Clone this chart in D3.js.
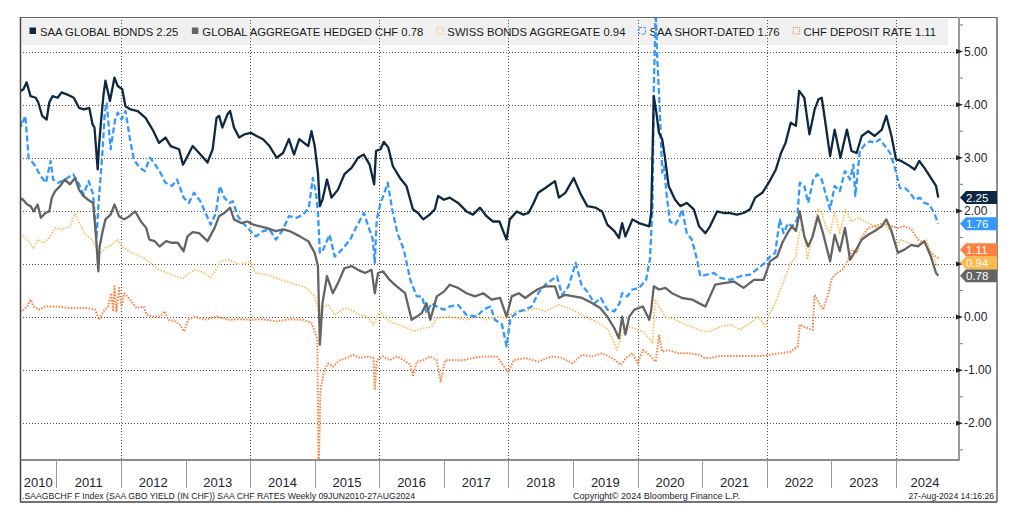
<!DOCTYPE html>
<html lang="en">
<head>
<meta charset="UTF-8">
<title>SAA CHF Rates</title>
<script src="https://d3js.org/d3.v7.min.js"></script>
<style>
    body { margin: 0; background: #fff; }
    svg { font-family: "Liberation Sans", Arial, sans-serif; }
    .grid line { stroke: #555; stroke-width: 1; stroke-dasharray: 1,2; shape-rendering: crispEdges; }
</style>
</head>
<body>
<div id="chart"></div>
<script>
// weekly series as [year fraction, yield]
var saaGlobal = [[2010.44,4.25],[2010.49,4.29],[2010.54,4.42],[2010.60,4.16],[2010.68,4.13],[2010.72,4.04],[2010.78,3.79],[2010.85,3.72],[2010.89,4.04],[2010.94,4.16],[2011.02,4.13],[2011.08,4.23],[2011.17,4.19],[2011.27,4.13],[2011.35,3.94],[2011.43,3.91],[2011.51,3.94],[2011.56,3.63],[2011.59,3.57],[2011.64,2.78],[2011.66,3.22],[2011.69,3.66],[2011.73,4.19],[2011.76,4.45],[2011.83,4.07],[2011.90,4.51],[2011.95,4.35],[2012.02,4.29],[2012.07,3.97],[2012.15,3.91],[2012.26,3.88],[2012.38,3.75],[2012.49,3.53],[2012.59,3.28],[2012.69,3.38],[2012.77,3.22],[2012.90,3.16],[2012.96,2.87],[2013.03,3.03],[2013.11,3.22],[2013.21,3.09],[2013.34,2.91],[2013.42,3.16],[2013.48,3.75],[2013.52,3.79],[2013.57,3.57],[2013.65,3.82],[2013.69,3.88],[2013.75,3.57],[2013.83,3.38],[2013.91,3.44],[2014.01,3.47],[2014.10,3.41],[2014.20,3.35],[2014.30,3.22],[2014.41,3.00],[2014.51,3.09],[2014.60,3.35],[2014.68,3.06],[2014.76,3.35],[2014.90,3.22],[2014.95,3.50],[2015.00,3.22],[2015.05,2.72],[2015.08,2.09],[2015.12,2.21],[2015.19,2.59],[2015.26,2.25],[2015.36,2.40],[2015.46,2.69],[2015.57,2.81],[2015.67,3.00],[2015.76,3.06],[2015.85,2.87],[2015.92,2.50],[2015.95,3.13],[2016.02,3.16],[2016.07,3.30],[2016.14,3.19],[2016.21,2.84],[2016.32,2.62],[2016.42,2.47],[2016.52,2.03],[2016.60,1.96],[2016.68,1.84],[2016.78,1.93],[2016.86,2.03],[2016.91,2.28],[2017.00,2.21],[2017.09,2.25],[2017.22,2.15],[2017.35,1.99],[2017.45,1.93],[2017.56,2.06],[2017.66,1.90],[2017.76,1.80],[2017.86,1.80],[2017.97,1.46],[2018.02,1.84],[2018.13,1.99],[2018.23,1.93],[2018.31,1.96],[2018.39,2.15],[2018.46,2.34],[2018.57,2.43],[2018.72,2.56],[2018.78,2.25],[2018.88,2.34],[2019.01,2.62],[2019.12,2.31],[2019.22,2.09],[2019.35,2.06],[2019.45,1.99],[2019.53,1.74],[2019.64,1.62],[2019.71,1.49],[2019.76,1.77],[2019.81,1.52],[2019.92,1.84],[2020.02,1.77],[2020.18,1.71],[2020.21,1.96],[2020.25,4.16],[2020.29,3.85],[2020.33,3.47],[2020.38,3.35],[2020.42,3.03],[2020.48,2.47],[2020.58,2.21],[2020.66,2.09],[2020.76,2.15],[2020.87,2.03],[2020.95,1.71],[2021.05,1.58],[2021.12,1.71],[2021.23,1.99],[2021.33,1.96],[2021.43,1.96],[2021.54,1.93],[2021.64,1.96],[2021.74,2.03],[2021.82,2.25],[2021.93,2.34],[2022.03,2.53],[2022.14,2.78],[2022.22,3.09],[2022.29,3.28],[2022.37,3.66],[2022.45,3.60],[2022.50,4.26],[2022.58,4.13],[2022.66,3.44],[2022.74,3.91],[2022.80,4.10],[2022.85,4.13],[2022.90,3.72],[2022.98,3.03],[2023.05,3.53],[2023.14,3.00],[2023.24,3.53],[2023.31,3.13],[2023.39,3.09],[2023.47,3.41],[2023.57,3.50],[2023.67,3.41],[2023.78,3.53],[2023.85,3.79],[2023.93,3.41],[2024.00,2.97],[2024.08,2.94],[2024.18,2.87],[2024.29,2.78],[2024.36,2.94],[2024.44,2.81],[2024.54,2.62],[2024.62,2.47],[2024.655,2.25]];

var globalAggHedged = [[2010.44,2.20],[2010.47,2.23],[2010.55,2.12],[2010.60,2.09],[2010.65,1.99],[2010.71,2.12],[2010.76,1.87],[2010.83,1.96],[2010.89,1.99],[2010.93,2.25],[2010.98,2.37],[2011.06,2.47],[2011.13,2.59],[2011.21,2.50],[2011.29,2.62],[2011.35,2.40],[2011.42,2.28],[2011.49,2.21],[2011.57,2.15],[2011.61,1.58],[2011.65,0.86],[2011.67,1.33],[2011.71,1.58],[2011.76,1.84],[2011.84,1.93],[2011.90,2.12],[2011.97,1.90],[2012.05,1.84],[2012.13,1.90],[2012.22,1.99],[2012.31,1.80],[2012.39,1.68],[2012.44,1.46],[2012.52,1.43],[2012.60,1.33],[2012.70,1.43],[2012.78,1.40],[2012.88,1.40],[2012.97,1.24],[2013.03,1.52],[2013.11,1.60],[2013.21,1.58],[2013.34,1.43],[2013.45,1.68],[2013.52,1.90],[2013.60,1.96],[2013.69,2.06],[2013.75,1.84],[2013.86,1.77],[2013.96,1.80],[2014.05,1.74],[2014.25,1.68],[2014.40,1.62],[2014.51,1.65],[2014.61,1.62],[2014.77,1.52],[2014.90,1.43],[2015.00,1.21],[2015.05,0.96],[2015.08,-0.52],[2015.12,0.26],[2015.19,0.77],[2015.28,0.45],[2015.36,0.64],[2015.46,0.92],[2015.57,0.96],[2015.67,0.89],[2015.78,0.83],[2015.88,0.89],[2015.93,0.45],[2015.98,0.83],[2016.06,0.86],[2016.16,0.70],[2016.27,0.58],[2016.40,0.45],[2016.50,-0.05],[2016.58,0.01],[2016.66,0.08],[2016.73,0.26],[2016.79,-0.05],[2016.89,0.39],[2017.00,0.48],[2017.09,0.61],[2017.22,0.55],[2017.35,0.45],[2017.48,0.39],[2017.61,0.45],[2017.74,0.33],[2017.87,0.36],[2017.97,0.01],[2018.05,0.39],[2018.16,0.45],[2018.26,0.36],[2018.36,0.45],[2018.46,0.53],[2018.57,0.58],[2018.72,0.58],[2018.78,0.36],[2018.88,0.42],[2019.01,0.39],[2019.14,0.36],[2019.30,0.26],[2019.42,0.17],[2019.53,0.01],[2019.64,-0.21],[2019.71,-0.40],[2019.76,0.01],[2019.81,-0.33],[2019.87,0.01],[2019.95,0.14],[2020.08,0.20],[2020.18,-0.05],[2020.21,0.14],[2020.25,0.58],[2020.33,0.52],[2020.43,0.55],[2020.53,0.45],[2020.69,0.36],[2020.84,0.33],[2021.00,0.23],[2021.05,0.20],[2021.12,0.39],[2021.20,0.61],[2021.33,0.64],[2021.49,0.67],[2021.64,0.55],[2021.80,0.70],[2021.95,0.70],[2022.05,1.05],[2022.16,1.14],[2022.24,1.40],[2022.32,1.58],[2022.39,1.71],[2022.45,1.62],[2022.51,1.99],[2022.58,1.52],[2022.64,1.33],[2022.71,1.52],[2022.79,1.90],[2022.87,1.58],[2022.98,1.05],[2023.05,1.55],[2023.13,1.24],[2023.21,1.68],[2023.29,1.08],[2023.37,1.24],[2023.47,1.46],[2023.57,1.55],[2023.67,1.62],[2023.78,1.71],[2023.85,1.84],[2023.93,1.62],[2024.03,1.21],[2024.13,1.27],[2024.24,1.36],[2024.34,1.33],[2024.44,1.43],[2024.54,1.14],[2024.62,0.83],[2024.655,0.78]];

var swissAgg = [[2010.44,1.55],[2010.47,1.55],[2010.55,1.46],[2010.64,1.30],[2010.72,1.46],[2010.81,1.40],[2010.89,1.49],[2010.98,1.68],[2011.08,1.65],[2011.21,1.71],[2011.29,1.95],[2011.37,1.74],[2011.45,1.55],[2011.55,1.46],[2011.63,1.27],[2011.69,1.21],[2011.76,1.30],[2011.86,1.36],[2011.94,1.46],[2012.02,1.33],[2012.12,1.24],[2012.23,1.18],[2012.36,1.11],[2012.49,0.99],[2012.59,0.89],[2012.72,0.83],[2012.85,0.77],[2012.95,0.72],[2013.05,0.83],[2013.16,0.89],[2013.29,0.83],[2013.39,0.74],[2013.47,0.89],[2013.54,1.05],[2013.67,1.08],[2013.83,0.99],[2014.00,1.05],[2014.09,0.83],[2014.25,0.80],[2014.40,0.74],[2014.56,0.67],[2014.72,0.61],[2014.87,0.55],[2015.00,0.39],[2015.05,0.14],[2015.09,-0.05],[2015.14,0.20],[2015.21,0.23],[2015.31,0.04],[2015.42,0.14],[2015.50,0.17],[2015.60,0.11],[2015.70,0.04],[2015.81,0.01],[2015.91,-0.14],[2016.01,0.11],[2016.12,-0.05],[2016.22,-0.11],[2016.38,-0.18],[2016.53,-0.27],[2016.68,-0.21],[2016.81,-0.18],[2016.89,-0.02],[2017.05,0.01],[2017.20,-0.02],[2017.35,-0.05],[2017.51,0.01],[2017.66,-0.05],[2017.82,0.01],[2017.97,-0.02],[2018.10,0.11],[2018.26,0.11],[2018.41,0.17],[2018.57,0.11],[2018.78,0.23],[2018.93,0.17],[2019.09,0.08],[2019.24,-0.02],[2019.40,-0.11],[2019.55,-0.24],[2019.68,-0.62],[2019.76,-0.33],[2019.87,-0.18],[2020.00,-0.24],[2020.08,-0.27],[2020.18,-0.40],[2020.23,-0.49],[2020.27,0.33],[2020.33,0.20],[2020.43,0.01],[2020.58,-0.05],[2020.74,-0.14],[2020.89,-0.21],[2021.02,-0.27],[2021.12,-0.27],[2021.28,-0.18],[2021.43,-0.14],[2021.59,-0.24],[2021.74,-0.11],[2021.87,0.01],[2021.97,-0.18],[2022.05,0.08],[2022.13,0.26],[2022.21,0.52],[2022.29,0.77],[2022.37,1.02],[2022.45,1.14],[2022.50,1.58],[2022.56,1.71],[2022.63,1.08],[2022.71,1.58],[2022.79,2.03],[2022.85,1.96],[2022.92,1.68],[2022.98,1.58],[2023.05,1.99],[2023.13,1.58],[2023.22,2.03],[2023.31,1.80],[2023.42,1.87],[2023.52,1.80],[2023.62,1.74],[2023.73,1.68],[2023.83,1.74],[2023.93,1.58],[2024.00,1.33],[2024.08,1.46],[2024.18,1.40],[2024.29,1.33],[2024.39,1.40],[2024.47,1.46],[2024.54,1.21],[2024.62,1.02],[2024.655,0.94]];

var saaShort = [[2010.44,3.70],[2010.46,3.60],[2010.52,3.79],[2010.57,3.00],[2010.66,2.87],[2010.76,2.65],[2010.84,2.53],[2010.91,2.94],[2010.95,2.59],[2011.03,2.53],[2011.13,2.59],[2011.26,2.69],[2011.34,2.53],[2011.42,2.31],[2011.50,2.56],[2011.57,2.31],[2011.62,1.46],[2011.65,2.09],[2011.71,3.03],[2011.75,3.85],[2011.78,4.04],[2011.84,3.16],[2011.91,3.72],[2011.95,3.85],[2012.01,3.72],[2012.07,3.88],[2012.14,3.35],[2012.20,2.97],[2012.29,2.81],[2012.37,2.75],[2012.45,3.00],[2012.53,2.87],[2012.61,2.72],[2012.69,2.53],[2012.79,2.47],[2012.87,2.59],[2012.97,2.25],[2013.05,2.15],[2013.13,2.34],[2013.23,2.18],[2013.31,1.96],[2013.39,1.74],[2013.47,1.96],[2013.53,2.47],[2013.60,2.25],[2013.68,2.15],[2013.73,2.18],[2013.81,1.90],[2013.89,1.77],[2013.99,1.64],[2014.09,1.52],[2014.20,1.62],[2014.30,1.65],[2014.40,1.46],[2014.51,1.65],[2014.60,1.90],[2014.72,1.87],[2014.82,1.93],[2014.91,2.06],[2014.97,2.62],[2015.02,2.34],[2015.05,1.96],[2015.08,1.21],[2015.13,1.27],[2015.23,1.55],[2015.31,1.14],[2015.42,1.27],[2015.55,1.46],[2015.65,1.71],[2015.76,1.96],[2015.83,1.71],[2015.90,1.46],[2015.93,1.02],[2015.96,1.84],[2016.02,2.15],[2016.08,2.34],[2016.13,2.53],[2016.20,2.03],[2016.28,1.58],[2016.38,1.27],[2016.48,0.70],[2016.58,0.39],[2016.66,0.39],[2016.73,0.08],[2016.81,0.26],[2016.89,0.20],[2017.00,0.14],[2017.09,0.20],[2017.22,0.23],[2017.35,0.04],[2017.51,0.01],[2017.61,0.14],[2017.72,0.20],[2017.79,-0.05],[2017.90,-0.14],[2017.97,-0.55],[2018.03,-0.02],[2018.16,0.11],[2018.26,0.14],[2018.36,0.20],[2018.46,0.45],[2018.57,0.61],[2018.67,0.70],[2018.75,0.77],[2018.83,0.42],[2018.93,0.58],[2019.04,1.02],[2019.13,0.61],[2019.22,0.48],[2019.33,0.26],[2019.43,0.36],[2019.53,0.14],[2019.64,0.11],[2019.72,0.26],[2019.76,0.45],[2019.84,0.39],[2019.92,0.52],[2020.02,0.55],[2020.13,0.70],[2020.19,1.08],[2020.23,2.09],[2020.25,4.29],[2020.28,5.80],[2020.30,4.98],[2020.34,3.97],[2020.38,2.72],[2020.41,2.84],[2020.45,2.28],[2020.50,1.80],[2020.58,1.74],[2020.63,1.84],[2020.69,2.03],[2020.76,1.58],[2020.84,1.46],[2020.92,1.08],[2020.97,0.77],[2021.07,0.80],[2021.18,0.83],[2021.28,0.74],[2021.43,0.70],[2021.59,0.77],[2021.74,0.80],[2021.87,0.92],[2021.97,1.02],[2022.05,1.14],[2022.13,1.21],[2022.20,1.84],[2022.26,1.58],[2022.33,1.77],[2022.39,1.71],[2022.47,1.84],[2022.51,2.53],[2022.58,2.47],[2022.64,2.15],[2022.72,2.59],[2022.78,2.69],[2022.85,2.59],[2022.92,2.28],[2022.98,2.03],[2023.05,2.47],[2023.13,2.37],[2023.21,2.75],[2023.29,2.59],[2023.34,2.87],[2023.37,2.28],[2023.44,3.13],[2023.52,3.25],[2023.60,3.31],[2023.67,3.28],[2023.75,3.35],[2023.83,3.22],[2023.91,3.09],[2023.99,2.78],[2024.06,2.43],[2024.14,2.43],[2024.22,2.34],[2024.29,2.21],[2024.37,2.25],[2024.44,2.15],[2024.52,2.12],[2024.60,1.93],[2024.655,1.76]];

var chfDeposit = [[2010.44,0.12],[2010.47,0.11],[2010.55,0.20],[2010.60,0.33],[2010.65,0.20],[2010.73,0.14],[2010.83,0.20],[2010.93,0.20],[2011.03,0.20],[2011.18,0.17],[2011.34,0.17],[2011.49,0.17],[2011.60,0.14],[2011.66,-0.05],[2011.73,0.11],[2011.80,0.20],[2011.85,0.45],[2011.88,0.11],[2011.90,0.58],[2011.93,0.11],[2011.97,0.55],[2012.01,0.20],[2012.05,0.45],[2012.14,0.33],[2012.24,0.17],[2012.35,0.20],[2012.40,0.04],[2012.50,0.01],[2012.60,0.01],[2012.68,0.11],[2012.73,-0.05],[2012.84,-0.08],[2012.91,-0.14],[2012.98,-0.27],[2013.04,-0.05],[2013.15,0.01],[2013.30,-0.05],[2013.49,0.01],[2013.67,-0.05],[2013.83,-0.04],[2014.03,-0.05],[2014.20,-0.04],[2014.40,-0.08],[2014.61,-0.04],[2014.82,-0.05],[2014.95,-0.11],[2015.00,-0.27],[2015.04,-0.43],[2015.06,-2.90],[2015.09,-1.37],[2015.12,-1.18],[2015.15,-0.99],[2015.21,-0.87],[2015.28,-0.93],[2015.39,-0.81],[2015.50,-0.77],[2015.60,-0.71],[2015.70,-0.77],[2015.81,-0.74],[2015.91,-0.77],[2015.93,-1.37],[2015.96,-0.81],[2016.06,-0.74],[2016.16,-0.81],[2016.27,-0.74],[2016.38,-0.81],[2016.48,-0.90],[2016.52,-1.12],[2016.58,-0.84],[2016.68,-0.81],[2016.79,-0.74],[2016.89,-0.81],[2016.95,-1.21],[2017.02,-0.81],[2017.15,-0.81],[2017.30,-0.81],[2017.45,-0.77],[2017.61,-0.74],[2017.82,-0.74],[2017.95,-0.96],[2018.00,-1.03],[2018.08,-0.81],[2018.26,-0.77],[2018.46,-0.84],[2018.67,-0.74],[2018.83,-0.77],[2018.99,-0.87],[2019.14,-0.71],[2019.30,-0.74],[2019.45,-0.68],[2019.61,-0.77],[2019.74,-0.90],[2019.82,-0.77],[2019.92,-0.68],[2020.00,-0.87],[2020.08,-0.62],[2020.18,-0.71],[2020.28,-0.84],[2020.33,-0.33],[2020.38,-0.65],[2020.48,-0.62],[2020.63,-0.68],[2020.79,-0.68],[2020.95,-0.71],[2021.04,-0.77],[2021.12,-0.77],[2021.28,-0.73],[2021.49,-0.73],[2021.69,-0.73],[2021.90,-0.73],[2022.05,-0.71],[2022.21,-0.68],[2022.37,-0.65],[2022.48,-0.55],[2022.51,-0.14],[2022.63,-0.21],[2022.71,-0.24],[2022.74,0.42],[2022.81,0.26],[2022.87,0.14],[2022.94,0.39],[2023.01,0.74],[2023.09,0.83],[2023.17,0.89],[2023.24,1.02],[2023.32,1.27],[2023.40,1.21],[2023.45,1.46],[2023.57,1.68],[2023.67,1.71],[2023.80,1.77],[2023.93,1.71],[2024.03,1.68],[2024.13,1.71],[2024.24,1.65],[2024.34,1.46],[2024.44,1.40],[2024.54,1.21],[2024.62,1.14],[2024.655,1.11]];

var seriesNames = ["SAA GLOBAL BONDS", "GLOBAL AGGREGATE HEDGED CHF", "SWISS BONDS AGGREGATE", "SAA SHORT-DATED", "CHF DEPOSIT RATE"];
var lastValues = [2.25, 0.78, 0.94, 1.76, 1.11];
var yTicks = [-2, -1, 0, 1, 2, 3, 4, 5];
var years = [2010, 2011, 2012, 2013, 2014, 2015, 2016, 2017, 2018, 2019, 2020, 2021, 2022, 2023, 2024];
var gridYears = [2012, 2014, 2016, 2018, 2020, 2022, 2024];
var footerLeft = ".SAAGBCHF F Index (SAA GBO YIELD (IN CHF)) SAA CHF RATES  Weekly 09JUN2010-27AUG2024";
var footerMid = "Copyright\u00a9 2024 Bloomberg Finance L.P.";
var footerRight = "27-Aug-2024 14:16:26";

var W = 1027, H = 526;
// note: "top" is a window property, so plot edges get their own names
var plotL = 20, plotR = 958, plotT = 17, plotB = 460;

var styles = [
    {color: "#0e2841", width: 2.3, dash: null, marker: "fill"},
    {color: "#646464", width: 2.3, dash: null, marker: "fill"},
    {color: "#ffb84d", width: 1.6, dash: "1.5,1.5", marker: "dot"},
    {color: "#3399ff", width: 2.3, dash: "6,3", marker: "dash"},
    {color: "#ff8040", width: 2, dash: "1.5,1.5", marker: "dot"}
];
var allSeries = [saaGlobal, globalAggHedged, swissAgg, saaShort, chfDeposit];

var svg = d3.select("#chart").append("svg")
    .attr("width", W).attr("height", H);

var x = d3.scaleLinear().domain([2010.437, 2024.96]).range([plotL, plotR]);
var y = d3.scaleLinear().domain([-2.69, 5.65]).range([plotB, plotT]);

// legend box (sits under the grid, like the original)
var legend = svg.append("g");
legend.append("rect").attr("x", 22).attr("y", 19).attr("width", 926).attr("height", 26).attr("fill", "#f0f0f0");
var lx = 29;
seriesNames.forEach(function(name, i) {
    var s = styles[i];
    var m = legend.append("rect").attr("x", lx + 0.5).attr("y", 27.5).attr("width", 6.5).attr("height", 6.5);
    if (s.marker == "fill") m.attr("fill", s.color);
    else m.attr("fill", "none").attr("stroke", s.color).attr("stroke-width", 1)
        .attr("stroke-dasharray", s.marker == "dot" ? "1,1" : "3,1.5");
    var t = legend.append("text").attr("x", lx + 11).attr("y", 36)
        .attr("font-size", 11.3).attr("fill", "#1a1a1a")
        .text(name + " " + lastValues[i].toFixed(2));
    lx = lx + 11 + t.node().getComputedTextLength() + 13;
});

// grid
var grid = svg.append("g").attr("class", "grid");
grid.selectAll(".h").data(yTicks).enter().append("line")
    .attr("x1", plotL).attr("x2", plotR).attr("y1", function(d){ return Math.round(y(d)) + 0.5; })
    .attr("y2", function(d){ return Math.round(y(d)) + 0.5; });
grid.selectAll(".v").data(gridYears).enter().append("line")
    .attr("y1", plotT).attr("y2", plotB).attr("x1", function(d){ return Math.round(x(d)) + 0.5; })
    .attr("x2", function(d){ return Math.round(x(d)) + 0.5; });

// lines
svg.append("clipPath").attr("id", "plot").append("rect")
    .attr("x", plotL).attr("y", plotT).attr("width", plotR - plotL).attr("height", plotB - plotT);
var line = d3.line().x(function(d){ return x(d[0]); }).y(function(d){ return y(d[1]); });
var order = [4, 2, 3, 1, 0];
var lines = svg.append("g").attr("clip-path", "url(#plot)");
order.forEach(function(i) {
    var s = styles[i];
    lines.append("path").datum(allSeries[i])
        .attr("d", line).attr("fill", "none")
        .attr("stroke", s.color).attr("stroke-width", s.width)
        .attr("stroke-linejoin", "round")
        .attr("stroke-dasharray", s.dash);
});

// frame
svg.append("line").attr("x1", plotL).attr("x2", 997).attr("y1", plotT + 0.5).attr("y2", plotT + 0.5).attr("stroke", "#666");
svg.append("line").attr("x1", plotL + 0.5).attr("x2", plotL + 0.5).attr("y1", plotT).attr("y2", 502).attr("stroke", "#444").attr("stroke-width", 1.5);
svg.append("line").attr("x1", plotL).attr("x2", 997).attr("y1", 502).attr("y2", 502).attr("stroke", "#444").attr("stroke-width", 1.5);
svg.append("line").attr("x1", 997).attr("x2", 997).attr("y1", plotT).attr("y2", 502).attr("stroke", "#666").attr("stroke-width", 1.5);
svg.append("line").attr("x1", plotL).attr("x2", 960).attr("y1", plotB).attr("y2", plotB).attr("stroke", "#666").attr("stroke-width", 1.5);
svg.append("line").attr("x1", 959).attr("x2", 959).attr("y1", plotT).attr("y2", plotB).attr("stroke", "#999").attr("stroke-width", 2);

// last value tags, nudged upward so they stack without covering each other
var tags = lastValues.map(function(v, i){ return {v: v, i: i}; })
    .sort(function(a, b){ return a.v - b.v; });
var prev = 1e9;
tags.forEach(function(t) {
    t.py = Math.min(y(t.v), prev - 13);
    prev = t.py;
});

// right axis (a tick label sitting under a value tag is hidden, as in the original)
var ax = svg.append("g");
ax.selectAll(".minor").data(d3.range(-2.5, 5.6, 0.5).filter(function(d){ return d % 1 != 0; })).enter().append("line")
    .attr("x1", 960).attr("x2", 963).attr("y1", function(d){ return y(d); }).attr("y2", function(d){ return y(d); })
    .attr("stroke", "#777");
ax.selectAll(".maj").data(yTicks).enter().append("path")
    .attr("d", function(d){ var p = y(d); return "M956," + (p - 2.5) + "L963," + p + "L956," + (p + 2.5) + "Z"; })
    .attr("fill", "#222");
var shownTicks = yTicks.filter(function(d) {
    return tags.every(function(t){ return Math.abs(t.py - y(d)) > 11; });
});
ax.selectAll("text").data(shownTicks).enter().append("text")
    .attr("x", 964).attr("y", function(d){ return y(d); })
    .attr("dominant-baseline", "central").attr("font-size", 12).attr("fill", "#1c2331")
    .text(function(d){ return d.toFixed(2); });

var tg = svg.append("g");
tags.forEach(function(t) {
    var c = styles[t.i].color, p = t.py;
    tg.append("path")
        .attr("d", "M960," + p + "L966," + (p - 6.5) + "L997," + (p - 6.5) + "L997," + (p + 6.5) + "L966," + (p + 6.5) + "Z")
        .attr("fill", c);
    tg.append("text").attr("x", 966).attr("y", p).attr("dominant-baseline", "central")
        .attr("font-size", 11.5).attr("fill", "#fff").text(t.v.toFixed(2));
});

// x axis: year separators and centred labels
var xa = svg.append("g");
xa.selectAll("line").data(years.slice(1)).enter().append("line")
    .attr("x1", function(d){ return Math.round(x(d)) + 0.5; }).attr("x2", function(d){ return Math.round(x(d)) + 0.5; })
    .attr("y1", plotB).attr("y2", 488).attr("stroke", "#999");
xa.selectAll("text").data(years).enter().append("text")
    .attr("x", function(d){ return (x(Math.max(d, 2010.437)) + x(Math.min(d + 1, 2024.9))) / 2; })
    .attr("y", 487).attr("text-anchor", "middle").attr("font-size", 13).attr("fill", "#1c2331")
    .text(function(d){ return d; });

// footer
svg.append("text").attr("x", 22).attr("y", 499).attr("font-size", 8.6).attr("fill", "#1c2331")
    .attr("textLength", 393).attr("lengthAdjust", "spacingAndGlyphs").text(footerLeft);
svg.append("text").attr("x", 573).attr("y", 499).attr("font-size", 8.6).attr("fill", "#1c2331")
    .attr("textLength", 167).attr("lengthAdjust", "spacingAndGlyphs").text(footerMid);
svg.append("text").attr("x", 994).attr("y", 499).attr("font-size", 8.6).attr("fill", "#1c2331")
    .attr("text-anchor", "end").text(footerRight);
</script>
</body>
</html>
